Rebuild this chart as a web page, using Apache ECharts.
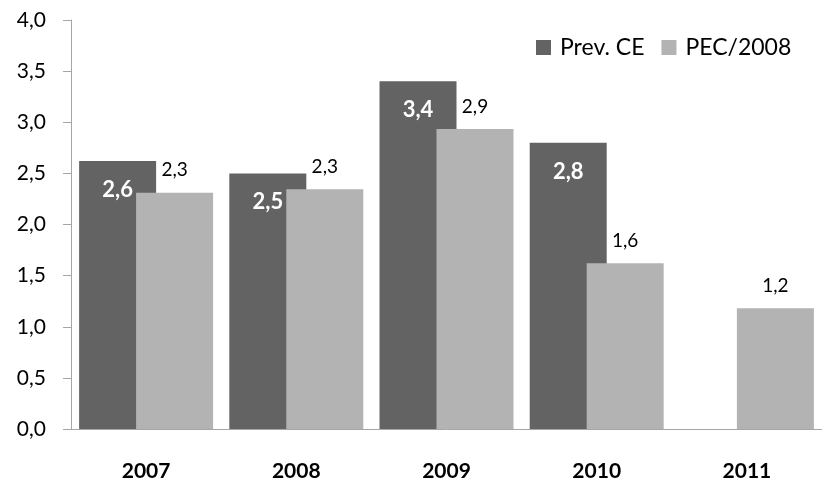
<!DOCTYPE html>
<html><head><meta charset="utf-8">
<script src="https://cdn.jsdelivr.net/npm/echarts@6/dist/echarts.min.js"></script>
<style>html,body{margin:0;padding:0;background:#fff}#c{width:822px;height:487px}</style>
</head><body><div id="c"></div>
<script>
const categories = ['2007','2008','2009','2010','2011'];
const prevCE = [2.62, 2.50, 3.40, 2.80, null];
const pec2008 = [2.31, 2.345, 2.935, 1.62, 1.18];
const yTicks = [0, 0.5, 1, 1.5, 2, 2.5, 3, 3.5, 4];
const FONT = 'Lato, "Liberation Sans", sans-serif';
const fmt = v => (v == null ? '' : Number(v).toFixed(1).replace('.', ','));
const chart = echarts.init(document.getElementById('c'), null, {renderer:'canvas'});
chart.setOption({
  animation: false,
  textStyle: {fontFamily: FONT},
  grid: {left: 71, right: -6, top: 20, bottom: 58, containLabel: false},
  legend: {
    left: 531, top: 31, itemWidth: 15, itemHeight: 15, itemGap: 17,
    icon: 'rect',
    textStyle: {fontSize: 23, color: '#000', fontFamily: FONT, padding: [0,0,0,4]},
    data: ['Prev. CE', 'PEC/2008']
  },
  xAxis: {
    type: 'category', data: categories,
    axisLine: {lineStyle: {color: '#a6a6a6', width: 1}},
    axisTick: {length: 9, lineStyle: {color: '#a6a6a6'}},
    axisLabel: {fontSize: 21, fontWeight: 'bold', color: '#000', margin: 32, fontFamily: FONT}
  },
  yAxis: {
    type: 'value', min: yTicks[0], max: yTicks[yTicks.length-1], interval: 0.5,
    splitLine: {show: false},
    axisLine: {show: true, lineStyle: {color: '#a6a6a6', width: 1}},
    axisTick: {show: true, length: 8, lineStyle: {color: '#a6a6a6'}},
    axisLabel: {fontSize: 21, color: '#000', margin: 25, formatter: v => fmt(v), fontFamily: FONT}
  },
  series: [
    {
      name: 'Prev. CE', type: 'bar', data: prevCE, barWidth: 77, barGap: '-26%',
      itemStyle: {color: '#636363'},
      label: {show: true, position: 'insideTop', distance: 18, color: '#fff', fontWeight: 'bold', fontSize: 22,
        fontFamily: FONT, formatter: p => fmt(p.value)}
    },
    {
      name: 'PEC/2008', type: 'bar', data: pec2008, barWidth: 77,
      itemStyle: {color: '#b3b3b3'},
      label: {show: true, position: 'top', distance: 13, color: '#000', fontSize: 19,
        fontFamily: FONT, formatter: p => fmt(p.value)}
    }
  ]
});
</script></body></html>
